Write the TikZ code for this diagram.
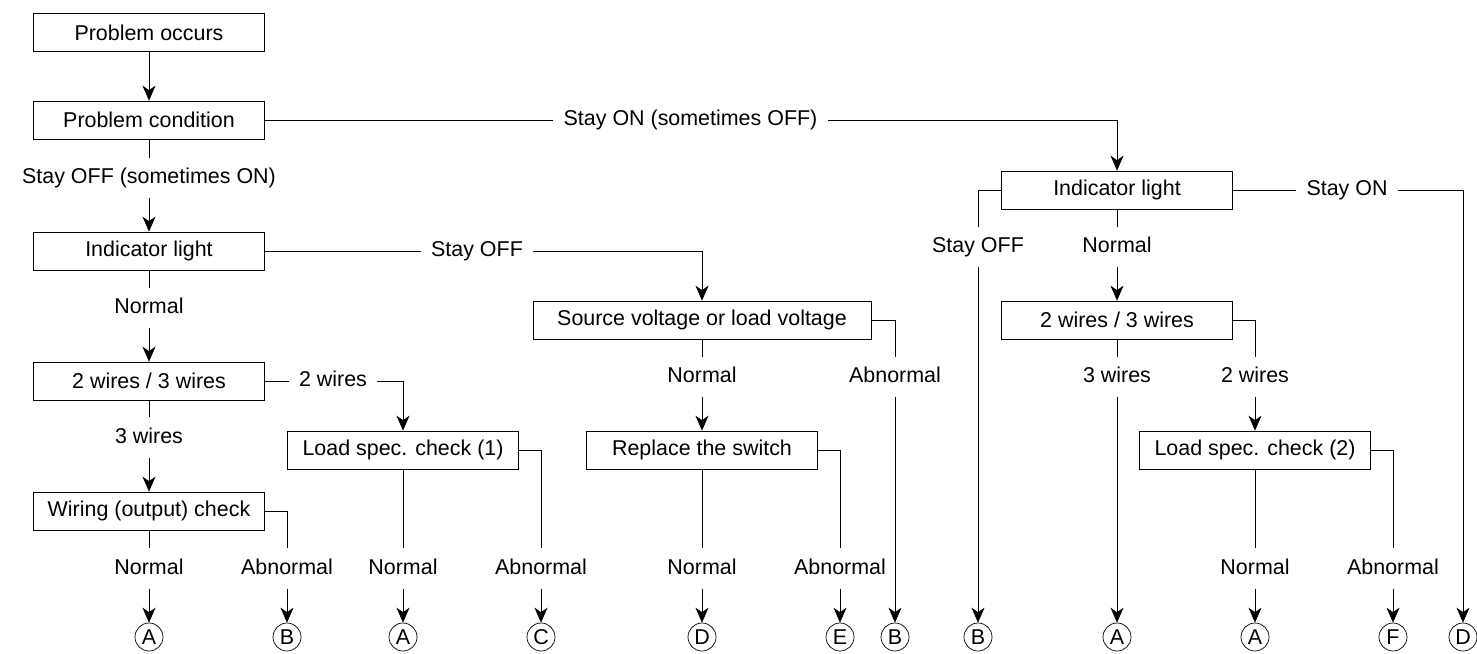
\documentclass[tikz,border=0pt]{standalone}
\usepackage{fontspec}
\setmainfont{Liberation Sans}
\usepackage{tikz}
\usetikzlibrary{positioning}
\usetikzlibrary{shapes,arrows.meta}
\tikzset{
  -{Stealth[length=0.3cm, width=0.26cm, inset=0.09cm]},
  line width=0.7pt,
  box/.style = {rectangle, draw, minimum width=4.62cm, minimum height=0.76cm, inner sep=0pt},
  lbl/.style = {inner xsep=5.7pt, inner ysep=5.6pt, text height=9pt, text depth=2.5pt},
  ltr/.style = {circle, draw, minimum size=0.56cm, inner sep=0pt},
}
\begin{document}
\begin{tikzpicture}[x=0.02cm, y=-0.02cm, font=\fontsize{12.2}{14.6}\selectfont]
  \useasboundingbox (0,0) rectangle (1477,653);
  % boxes
  \node (P)  [box] at (149,32.5) {Problem occurs};
  \node (C)  [box] at (149,120) {Problem condition};
  \node (I)  [box] at (149,251) {Indicator light};
  \node (W)  [box] at (149,381) {2 wires / 3 wires};
  \node (O)  [box] at (149,511) {Wiring (output) check};
  \node (L)  [box] at (403,450) {Load spec. check (1)};
  \node (V)  [box, minimum width=6.76cm] at (702,320) {Source voltage or load voltage};
  \node (R)  [box] at (702,450) {Replace the switch};
  \node (I2) [box] at (1117,190) {Indicator light};
  \node (W2) [box] at (1117,320) {2 wires / 3 wires};
  \node (L2) [box] at (1255,450) {Load spec. check (2)};
  % labels
  \node (sC) [lbl] at (149,178) {Stay OFF (sometimes ON)};
  \node (sN) [lbl] at (690.5,120) {Stay ON (sometimes OFF)};
  \node (iF) [lbl] at (477,251) {Stay OFF};
  \node (iN) [lbl] at (149,308) {Normal};
  \node (w2) [lbl] at (333,381) {2 wires};
  \node (w3) [lbl] at (149,437.5) {3 wires};
  \node (oN) [lbl] at (149,568.5) {Normal};
  \node (oA) [lbl] at (287,568.5) {Abnormal};
  \node (lN) [lbl] at (403,568.5) {Normal};
  \node (lA) [lbl] at (541,568.5) {Abnormal};
  \node (vN) [lbl] at (702,377) {Normal};
  \node (vA) [lbl] at (895,377) {Abnormal};
  \node (rN) [lbl] at (702,568.5) {Normal};
  \node (rA) [lbl] at (840,568.5) {Abnormal};
  \node (jF) [lbl] at (978,247) {Stay OFF};
  \node (jN) [lbl] at (1117,247) {Normal};
  \node (jO) [lbl] at (1347,190) {Stay ON};
  \node (x3) [lbl] at (1117,377) {3 wires};
  \node (x2) [lbl] at (1255,377) {2 wires};
  \node (mN) [lbl] at (1255,568.5) {Normal};
  \node (mA) [lbl] at (1393,568.5) {Abnormal};
  % end marks
  \foreach \nm/\tx/\xx in {a1/A/149, b1/B/287, a2/A/403, c1/C/541, d1/D/702, e1/E/840,
                           b2/B/895, b3/B/978, a3/A/1117, a4/A/1255, f1/F/1393, d2/D/1463}
    \node (\nm) [ltr] at (\xx,637) {\tx};
  % left branch
  \draw (P) -- (C);
  \draw[-] (C) -- (sC);
  \draw (sC) -- (I);
  \draw[-] (I) -- (iN);
  \draw (iN) -- (W);
  \draw[-] (W) -- (w3);
  \draw (w3) -- (O);
  \draw[-] (O) -- (oN);
  \draw (oN) -- (a1);
  \draw[-] (O) -| (oA);
  \draw (oA) -- (b1);
  \draw[-] (W) -- (w2);
  \draw (w2) -| (L);
  \draw[-] (L) -- (lN);
  \draw (lN) -- (a2);
  \draw[-] (L) -| (lA);
  \draw (lA) -- (c1);
  % middle branch
  \draw[-] (I) -- (iF);
  \draw (iF) -| (V);
  \draw[-] (V) -- (vN);
  \draw (vN) -- (R);
  \draw[-] (V) -| (vA);
  \draw (vA) -- (b2);
  \draw[-] (R) -- (rN);
  \draw (rN) -- (d1);
  \draw[-] (R) -| (rA);
  \draw (rA) -- (e1);
  % right branch
  \draw[-] (C) -- (sN);
  \draw (sN) -| (I2);
  \draw[-] (I2) -| (jF);
  \draw (jF) -- (b3);
  \draw[-] (I2) -- (jN);
  \draw (jN) -- (W2);
  \draw[-] (I2) -- (jO);
  \draw (jO) -| (d2);
  \draw[-] (W2) -- (x3);
  \draw (x3) -- (a3);
  \draw[-] (W2) -| (x2);
  \draw (x2) -- (L2);
  \draw[-] (L2) -- (mN);
  \draw (mN) -- (a4);
  \draw[-] (L2) -| (mA);
  \draw (mA) -- (f1);
\end{tikzpicture}
\end{document}
